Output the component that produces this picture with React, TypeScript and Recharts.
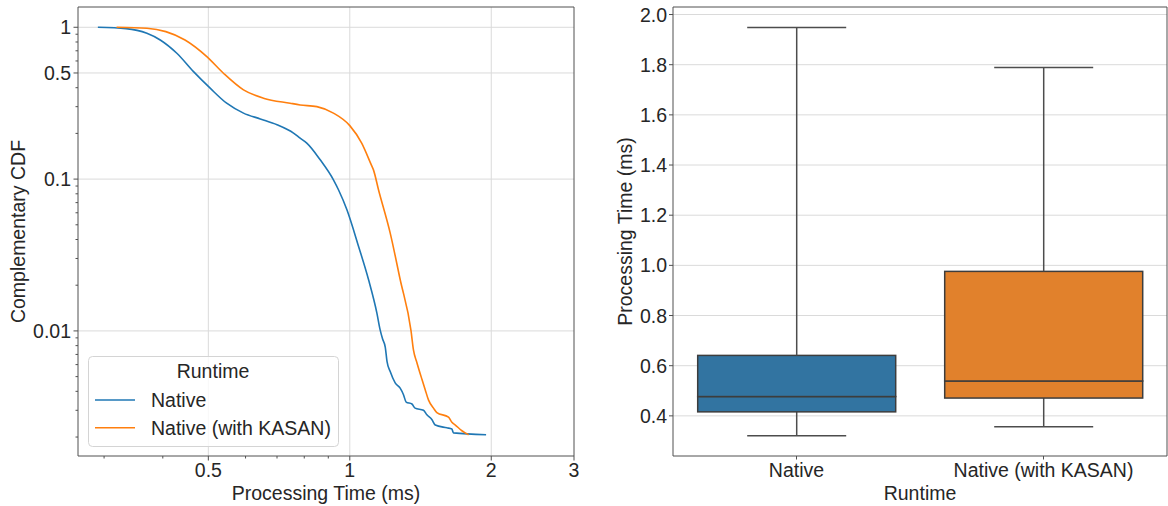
import React from "react";
import {
  Bar,
  BarChart,
  CartesianGrid,
  Legend,
  Line,
  LineChart,
  ReferenceArea,
  XAxis,
  YAxis,
} from "recharts";

const FONT = '"Liberation Sans", Arial, Helvetica, sans-serif';
const FS = 19.5;
const TEXT = "#262626";
const SPINE = "#505050";
const GRID = "#dadada";

// CCDF curves (time in ms, fraction of requests slower)
const nativeTime = [
  0.291, 0.334, 0.37, 0.395, 0.4285, 0.465, 0.5045, 0.547, 0.594, 0.645, 0.7, 0.759, 0.784, 0.81, 0.865, 0.923,
  0.946, 0.986, 1.044, 1.096, 1.142, 1.16, 1.175, 1.19, 1.2, 1.219, 1.249, 1.28, 1.301, 1.318, 1.356, 1.377, 1.435,
  1.459, 1.496, 1.52, 1.609, 1.649, 1.662, 1.95,
];
const nativeCcdf = [
  1, 0.98, 0.913, 0.825, 0.674, 0.51, 0.397, 0.316, 0.272, 0.249, 0.228, 0.201, 0.186, 0.1725, 0.134, 0.0989,
  0.0851, 0.0628, 0.036, 0.0218, 0.0131, 0.0102, 0.0088, 0.0078, 0.0063, 0.0054, 0.00455, 0.0042, 0.0038, 0.0034,
  0.0033, 0.0031, 0.003, 0.0028, 0.0026, 0.0024, 0.0023, 0.00226, 0.00213, 0.00207,
];
const kasanTime = [
  0.319, 0.37, 0.406, 0.446, 0.4963, 0.5384, 0.594, 0.655, 0.7465, 0.784, 0.851, 0.923, 1.0, 1.06, 1.11,
  1.123, 1.151, 1.219, 1.28, 1.35, 1.366, 1.389, 1.424, 1.447, 1.471, 1.507, 1.532, 1.622, 1.649, 1.677, 1.732,
  1.76, 1.79,
];
const kasanCcdf = [
  1, 0.985, 0.936, 0.825, 0.641, 0.498, 0.387, 0.341, 0.316, 0.308, 0.3, 0.272, 0.225, 0.1725, 0.125,
  0.115, 0.0851, 0.0441, 0.0218, 0.01, 0.0075, 0.0062, 0.0048, 0.0041, 0.0035, 0.0031, 0.0029, 0.0027, 0.0025,
  0.0024, 0.0022, 0.00213, 0.00207,
];

const ccdfXTicks = [0.5, 1, 2, 3];
const ccdfXMinor = [0.3, 0.4, 0.6, 0.7, 0.8, 0.9];
const ccdfYTicks = [1, 0.5, 0.1, 0.01];
const ccdfYMinor = [
  0.9, 0.8, 0.7, 0.6, 0.4, 0.3, 0.2, 0.09, 0.08, 0.07, 0.06, 0.05, 0.04, 0.03, 0.02, 0.009, 0.008, 0.007, 0.006,
  0.005, 0.004, 0.003, 0.002,
];

// box plot summary per runtime
const runtimes = ["Native", "Native (with KASAN)"];
const whiskerLow = [0.321, 0.357];
const q1 = [0.416, 0.471];
const median = [0.477, 0.539];
const q3 = [0.641, 0.976];
const whiskerHigh = [1.948, 1.789];
const timeTicks = [0.4, 0.6, 0.8, 1.0, 1.2, 1.4, 1.6, 1.8, 2.0];

const lineColors = ["#1f77b4", "#ff7f0e"];
const boxColors = ["#3274a1", "#e1812c"];

const nativeData = nativeTime.map((x, i) => ({ x, y: nativeCcdf[i] }));
const kasanData = kasanTime.map((x, i) => ({ x, y: kasanCcdf[i] }));

const boxData = runtimes.map((name, i) => ({
  name,
  base: whiskerLow[i],
  lowWhisker: q1[i] - whiskerLow[i],
  lowBox: median[i] - q1[i],
  highBox: q3[i] - median[i],
  highWhisker: whiskerHigh[i] - q3[i],
  color: boxColors[i],
}));

const X_DOMAIN = [0.264, 3];
const Y_DOMAIN = [0.0015, 1.36];
const T_DOMAIN = [0.24, 2.03];

const textStyle = { fill: TEXT, fontSize: FS, fontFamily: FONT };

const LogXTick = ({ x, y, payload }: any) => {
  const major = ccdfXTicks.includes(payload.value);
  return (
    <g>
      <line x1={x} x2={x} y1={y} y2={y + (major ? 4.5 : 2.5)} stroke={SPINE} />
      {major ? (
        <text x={x} y={y + 7} dy="0.71em" textAnchor="middle" {...textStyle}>
          {String(payload.value)}
        </text>
      ) : null}
    </g>
  );
};

const LogYTick = ({ x, y, payload }: any) => {
  const major = ccdfYTicks.includes(payload.value);
  return (
    <g>
      <line x1={x - (major ? 4.5 : 2.5)} x2={x} y1={y} y2={y} stroke={SPINE} />
      {major ? (
        <text x={x - 7} y={y} dy="0.36em" textAnchor="end" {...textStyle}>
          {String(payload.value)}
        </text>
      ) : null}
    </g>
  );
};

const CatTick = ({ x, y, payload }: any) => (
  <g>
    <line x1={x} x2={x} y1={y} y2={y + 3.5} stroke={SPINE} />
    <text x={x} y={y + 7} dy="0.71em" textAnchor="middle" {...textStyle}>
      {payload.value}
    </text>
  </g>
);

const TimeTick = ({ x, y, payload }: any) => (
  <g>
    <line x1={x - 4} x2={x} y1={y} y2={y} stroke={SPINE} />
    <text x={x - 6} y={y} dy="0.36em" textAnchor="end" {...textStyle}>
      {Number(payload.value).toFixed(1)}
    </text>
  </g>
);

const CcdfLegend = () => (
  <svg width={251} height={91} style={{ display: "block" }}>
    <rect x={0.5} y={0.5} width={250} height={90} rx={4} fill="rgba(255,255,255,0.8)" stroke="#d4d4d4" />
    <text x={125} y={22} textAnchor="middle" {...textStyle}>
      Runtime
    </text>
    {runtimes.map((name, i) => (
      <g key={name}>
        <line x1={7} x2={47} y1={44 + i * 27.7} y2={44 + i * 27.7} stroke={lineColors[i]} strokeWidth={1.6} />
        <text x={63} y={51.3 + i * 27.7} {...textStyle}>
          {name}
        </text>
      </g>
    ))}
  </svg>
);

const Whisker = ({ x, y, width, height, low }: any) => {
  const cx = x + width / 2;
  const capY = low ? y + height : y;
  return (
    <g>
      <line x1={cx} x2={cx} y1={y} y2={y + height} stroke="#4d4d4d" strokeWidth={1.5} />
      <line x1={cx - width / 4} x2={cx + width / 4} y1={capY} y2={capY} stroke="#4d4d4d" strokeWidth={1.5} />
    </g>
  );
};

const BoxPart = ({ x, y, width, height, payload }: any) => (
  <rect x={x} y={y} width={width} height={height} fill={payload.color} stroke="#3d3d3d" strokeWidth={1.5} />
);

function CcdfChart() {
  return (
    <LineChart width={590} height={506} margin={{ top: 7, right: 16, bottom: 0, left: 0 }}>
      <CartesianGrid stroke={GRID} horizontalValues={ccdfYTicks} verticalValues={[0.5, 1, 2]} />
      <XAxis
        type="number"
        dataKey="x"
        scale="log"
        domain={X_DOMAIN}
        allowDataOverflow
        ticks={[...ccdfXMinor, ...ccdfXTicks]}
        interval={0}
        height={50}
        tickSize={0}
        tickMargin={0}
        tickLine={false}
        axisLine={false}
        tick={<LogXTick />}
        label={{ value: "Processing Time (ms)", position: "insideBottom", offset: 6, style: textStyle }}
      />
      <YAxis
        type="number"
        dataKey="y"
        scale="log"
        domain={Y_DOMAIN}
        allowDataOverflow
        ticks={[...ccdfYTicks, ...ccdfYMinor]}
        interval={0}
        width={78}
        tickSize={0}
        tickMargin={0}
        tickLine={false}
        axisLine={false}
        tick={<LogYTick />}
        label={{
          value: "Complementary CDF",
          angle: -90,
          position: "insideLeft",
          offset: 18,
          style: { ...textStyle, textAnchor: "middle" },
        }}
      />
      <ReferenceArea y1={Y_DOMAIN[0]} y2={Y_DOMAIN[1]} fill="none" stroke={SPINE} strokeWidth={1} />
      <Line
        data={nativeData}
        dataKey="y"
        name="Native"
        type="monotone"
        stroke={lineColors[0]}
        strokeWidth={1.6}
        dot={false}
        isAnimationActive={false}
      />
      <Line
        data={kasanData}
        dataKey="y"
        name="Native (with KASAN)"
        type="monotone"
        stroke={lineColors[1]}
        strokeWidth={1.6}
        dot={false}
        isAnimationActive={false}
      />
      <Legend
        layout="horizontal"
        align="center"
        verticalAlign="middle"
        wrapperStyle={{ left: 88, top: 356, width: 251, height: 91 }}
        content={() => <CcdfLegend />}
      />
    </LineChart>
  );
}

function BoxChart() {
  return (
    <BarChart width={578} height={506} data={boxData} margin={{ top: 7, right: 1, bottom: 0, left: 0 }} barCategoryGap="10%">
      <CartesianGrid stroke={GRID} vertical={false} horizontalValues={timeTicks} />
      <XAxis
        dataKey="name"
        height={50}
        tickSize={0}
        tickMargin={0}
        tickLine={false}
        axisLine={false}
        tick={<CatTick />}
        interval={0}
        label={{ value: "Runtime", position: "insideBottom", offset: 6, style: textStyle }}
      />
      <YAxis
        type="number"
        domain={T_DOMAIN}
        allowDataOverflow
        ticks={timeTicks}
        interval={0}
        width={83}
        tickSize={0}
        tickMargin={0}
        tickLine={false}
        axisLine={false}
        tick={<TimeTick />}
        label={{
          value: "Processing Time (ms)",
          angle: -90,
          position: "insideLeft",
          offset: 35,
          style: { ...textStyle, textAnchor: "middle" },
        }}
      />
      <Bar dataKey="base" stackId="box" shape={() => <g />} isAnimationActive={false} />
      <Bar dataKey="lowWhisker" stackId="box" shape={(p: any) => <Whisker {...p} low />} isAnimationActive={false} />
      <Bar dataKey="lowBox" stackId="box" shape={(p: any) => <BoxPart {...p} />} isAnimationActive={false} />
      <Bar dataKey="highBox" stackId="box" shape={(p: any) => <BoxPart {...p} />} isAnimationActive={false} />
      <Bar dataKey="highWhisker" stackId="box" shape={(p: any) => <Whisker {...p} />} isAnimationActive={false} />
      <ReferenceArea y1={T_DOMAIN[0]} y2={T_DOMAIN[1]} fill="none" stroke={SPINE} strokeWidth={1} />
    </BarChart>
  );
}

export default function App() {
  return (
    <div style={{ position: "absolute", left: 0, top: 0, width: 1168, height: 506, background: "#fff", fontFamily: FONT }}>
      <div style={{ position: "absolute", left: 0, top: 0 }}>
        <CcdfChart />
      </div>
      <div style={{ position: "absolute", left: 590, top: 0 }}>
        <BoxChart />
      </div>
    </div>
  );
}
